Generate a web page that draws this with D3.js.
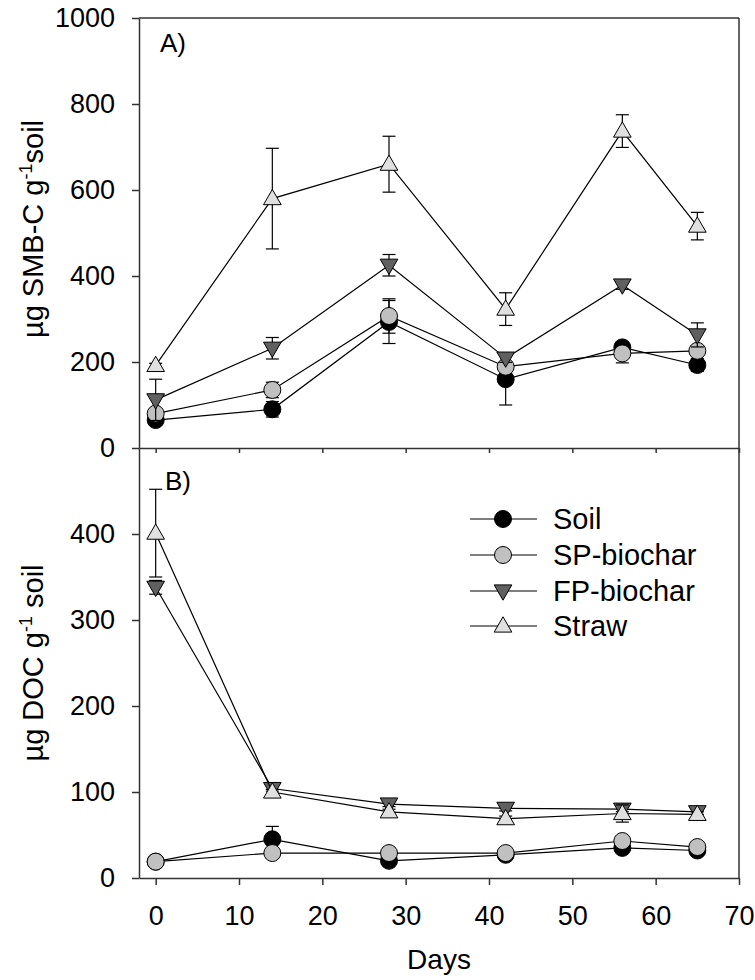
<!DOCTYPE html>
<html>
<head>
<meta charset="utf-8">
<script src="https://cdn.jsdelivr.net/npm/d3@7"></script>
<style>
  html, body { margin: 0; padding: 0; background: #fff; }
  text { font-family: "Liberation Sans", Arial, sans-serif; fill: #000; }
</style>
</head>
<body>
<svg id="chart" width="755" height="980"></svg>
<script>
// ---- data ----
const days = [0, 14, 28, 42, 56, 65];
const seriesNames = ["Soil", "SP-biochar", "FP-biochar", "Straw"];

// Panel A: SMB-C (µg g-1 soil)
const smbSoil  = [65, 90, 293, 160, 234, 193];
const smbSoilErr = [5, 18, 50, 60, 10, 15];
const smbSP    = [80, 135, 307, 189, 220, 226];
const smbSPErr = [10, 18, 40, 10, 22, 10];
const smbFP    = [112, 232, 425, 209, 379, 263];
const smbFPErr = [48, 25, 25, 10, 10, 28];
const smbStraw = [192, 580, 660, 323, 737, 516];
const smbStrawErr = [5, 117, 65, 38, 38, 32];

// Panel B: DOC (µg g-1 soil)
const docSoil  = [19, 45, 20, 27, 35, 32];
const docSoilErr = [2, 15, 3, 3, 3, 3];
const docSP    = [19, 29, 29, 29, 43, 36];
const docSPErr = [2, 3, 3, 3, 3, 3];
const docFP    = [338, 104, 86, 81, 80, 77];
const docFPErr = [8, 3, 3, 3, 3, 3];
const docStraw = [401, 100, 77, 69, 75, 74];
const docStrawErr = [51, 3, 3, 3, 10, 3];

const xTicks = [0, 10, 20, 30, 40, 50, 60, 70];
const yTicksA = [0, 200, 400, 600, 800, 1000];
const yTicksB = [0, 100, 200, 300, 400];

// ---- styles ----
const fills = ["#000000", "#c0c0c0", "#606060", "#e0e0e0"];
const shapes = ["circle", "circle", "down", "up"];
const axisColor = "#333";

const svg = d3.select("#chart");

const x = d3.scaleLinear().domain([-2, 70]).range([139, 739]);
const yA = d3.scaleLinear().domain([0, 1000]).range([448, 18]);
const yB = d3.scaleLinear().domain([0, 500]).range([878, 448]);

const circleSym = d3.symbol().type(d3.symbolCircle).size(227);
const triSym = d3.symbol().type(d3.symbolTriangle).size(135);

function marker(g, shape, fill, cx, cy) {
  let p;
  if (shape === "circle") {
    p = g.append("path").attr("d", circleSym()).attr("transform", `translate(${cx},${cy})`);
  } else if (shape === "up") {
    p = g.append("path").attr("d", triSym()).attr("transform", `translate(${cx},${cy + 1})`);
  } else {
    p = g.append("path").attr("d", triSym()).attr("transform", `translate(${cx},${cy - 1}) rotate(180)`);
  }
  p.attr("fill", fill).attr("stroke", "#000").attr("stroke-width", 1);
}

function drawPanel(y, vals, errs) {
  const g = svg.append("g");
  vals.forEach((v, si) => {
    const sg = g.append("g");
    const pts = days.map((d, i) => ({ d, v: v[i], e: errs[si][i] }));
    pts.forEach(p => {
      if (p.e > 0) {
        sg.append("line").attr("x1", x(p.d)).attr("x2", x(p.d))
          .attr("y1", y(p.v - p.e)).attr("y2", y(p.v + p.e))
          .attr("stroke", "#000").attr("stroke-width", 1.2);
        [p.v - p.e, p.v + p.e].forEach(ev => {
          sg.append("line").attr("x1", x(p.d) - 6.5).attr("x2", x(p.d) + 6.5)
            .attr("y1", y(ev)).attr("y2", y(ev))
            .attr("stroke", "#000").attr("stroke-width", 1.2);
        });
      }
    });
    sg.append("path").datum(pts)
      .attr("d", d3.line().x(p => x(p.d)).y(p => y(p.v)))
      .attr("fill", "none").attr("stroke", "#000").attr("stroke-width", 1.2);
    pts.forEach(p => marker(sg, shapes[si], fills[si], x(p.d), y(p.v)));
  });
}

drawPanel(yA, [smbSoil, smbSP, smbFP, smbStraw], [smbSoilErr, smbSPErr, smbFPErr, smbStrawErr]);
drawPanel(yB, [docSoil, docSP, docFP, docStraw], [docSoilErr, docSPErr, docFPErr, docStrawErr]);

// ---- axes ----
function styleAxis(g, fontSize) {
  g.selectAll("path,line").attr("stroke", axisColor).attr("stroke-width", 1.5);
  g.selectAll("text").style("font-size", fontSize + "px").attr("fill", "#000")
    .style("font-family", '"Liberation Sans", Arial, sans-serif');
}

const fmt = d3.format("d");

const axA = svg.append("g").attr("transform", "translate(139,0)")
  .call(d3.axisLeft(yA).tickValues(yTicksA).tickFormat(fmt).tickSize(7).tickSizeOuter(0).tickPadding(17));
styleAxis(axA, 27);

const axB = svg.append("g").attr("transform", "translate(139,0)")
  .call(d3.axisLeft(yB).tickValues(yTicksB).tickFormat(fmt).tickSize(7).tickSizeOuter(0).tickPadding(17));
styleAxis(axB, 27);

const axXA = svg.append("g").attr("transform", "translate(0,448)")
  .call(d3.axisBottom(x).tickValues(xTicks).tickSize(5).tickSizeOuter(0).tickFormat(""));
styleAxis(axXA, 27);

const axXB = svg.append("g").attr("transform", "translate(0,878)")
  .call(d3.axisBottom(x).tickValues(xTicks).tickFormat(fmt).tickSize(7).tickSizeOuter(0).tickPadding(21));
styleAxis(axXB, 27);

// frame (top and right)
svg.append("line").attr("x1", x.range()[0]).attr("x2", x.range()[1])
  .attr("y1", yA.range()[1]).attr("y2", yA.range()[1])
  .attr("stroke", axisColor).attr("stroke-width", 1.5);
svg.append("line").attr("x1", x.range()[1]).attr("x2", x.range()[1])
  .attr("y1", yA.range()[1]).attr("y2", yB.range()[0])
  .attr("stroke", axisColor).attr("stroke-width", 1.5);

// ---- labels ----
svg.append("text").attr("x", 160).attr("y", 52).style("font-size", "26px").text("A)");
svg.append("text").attr("x", 165).attr("y", 490).style("font-size", "26px").text("B)");

svg.append("text").attr("x", 439).attr("y", 969).attr("text-anchor", "middle")
  .style("font-size", "28px").text("Days");

function yTitle(cx, cy, pre, post) {
  const t = svg.append("text").attr("transform", `translate(${cx},${cy}) rotate(-90)`)
    .attr("text-anchor", "middle").style("font-size", "29px");
  t.append("tspan").text(pre);
  t.append("tspan").attr("dy", -11).style("font-size", "18px").text("-1");
  t.append("tspan").attr("dy", 11).text(post);
}
yTitle(43, 229, "µg SMB-C g", "soil");
yTitle(43, 663, "µg DOC g", " soil");

// ---- legend ----
const legRows = [519, 555, 591, 626];
const lg = svg.append("g");
seriesNames.forEach((n, i) => {
  lg.append("line").attr("x1", 470).attr("x2", 537).attr("y1", legRows[i]).attr("y2", legRows[i])
    .attr("stroke", "#000").attr("stroke-width", 1.2);
  marker(lg, shapes[i], fills[i], 503, legRows[i]);
  lg.append("text").attr("x", 553).attr("y", legRows[i] + 10).style("font-size", "29px").text(n);
});
</script>
</body>
</html>
